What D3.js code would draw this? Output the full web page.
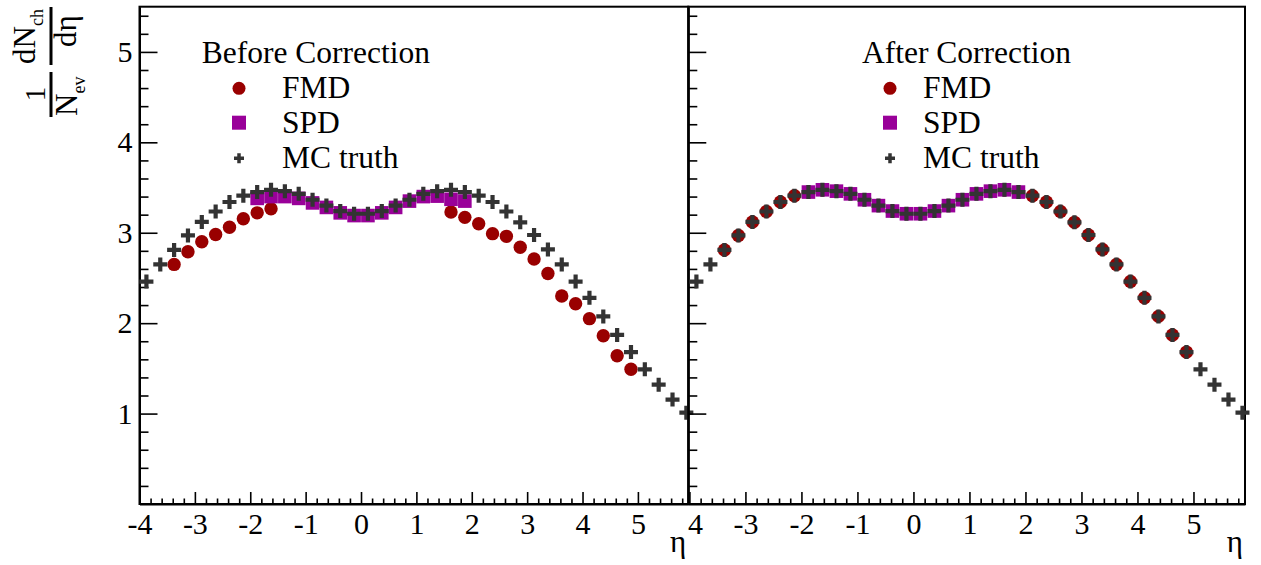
<!DOCTYPE html>
<html><head><meta charset="utf-8">
<script src="https://cdn.jsdelivr.net/npm/d3@7"></script>
<style>body{margin:0;background:#fff}svg{display:block}</style>
</head><body>
<svg id="c" width="1261" height="565"></svg>
<script>
// ---------- data ----------
const etaMC = [-3.875,-3.625,-3.375,-3.125,-2.875,-2.625,-2.375,-2.125,-1.875,-1.625,-1.375,-1.125,-0.875,-0.625,-0.375,-0.125,
  0.125,0.375,0.625,0.875,1.125,1.375,1.625,1.875,2.125,2.375,2.625,2.875,3.125,3.375,3.625,3.875,4.125,4.375,4.625,4.875,5.125,5.375,5.625,5.875];
const mcTruth = [2.46,2.65,2.81,2.97,3.12,3.235,3.34,3.41,3.45,3.475,3.46,3.43,3.365,3.30,3.24,3.21,
  3.21,3.24,3.30,3.365,3.43,3.46,3.475,3.45,3.41,3.34,3.235,3.115,2.975,2.815,2.65,2.46,2.28,2.075,1.87,1.68,1.49,1.32,1.155,1.01];
const etaFMD = [-3.375,-3.125,-2.875,-2.625,-2.375,-2.125,-1.875,-1.625,
  1.625,1.875,2.125,2.375,2.625,2.875,3.125,3.375,3.625,3.875,4.125,4.375,4.625,4.875];
const fmdBefore = [2.65,2.79,2.90,2.98,3.06,3.155,3.22,3.265,
  3.23,3.17,3.10,2.99,2.96,2.84,2.71,2.55,2.30,2.215,2.05,1.86,1.64,1.49];
const fmdAfter = [2.81,2.97,3.12,3.235,3.34,3.41,3.45,3.475,
  3.475,3.45,3.41,3.34,3.235,3.115,2.975,2.815,2.65,2.46,2.28,2.075,1.87,1.68];
const etaSPD = [-1.875,-1.625,-1.375,-1.125,-0.875,-0.625,-0.375,-0.125,0.125,0.375,0.625,0.875,1.125,1.375,1.625,1.875];
const spdBefore = [3.38,3.40,3.40,3.38,3.33,3.28,3.22,3.19,3.19,3.22,3.28,3.35,3.40,3.405,3.37,3.35];
const spdAfter = [3.45,3.475,3.46,3.43,3.365,3.30,3.24,3.21,3.21,3.24,3.30,3.365,3.43,3.46,3.475,3.45];
const xTickValues = [-4,-3,-2,-1,0,1,2,3,4,5];
const yTickValues = [1,2,3,4,5];
const legendTitles = ["Before Correction","After Correction"];
const legendLabels = ["FMD","SPD","MC truth"];

// ---------- styles ----------
const FONT = "'Liberation Serif','Times New Roman',serif";
const C_FMD = "#990000", C_SPD = "#990099", C_MC = "#333333";

const svg = d3.select("#c");
svg.append("rect").attr("width",1261).attr("height",565).attr("fill","#fff");

const yTop = 6.7, yBot = 504;
const y = d3.scaleLinear().domain([0,5.5]).range([yBot,yTop]);

const panels = [
  {x0:139.5, x1:688.3, dom:[-4,5.91], fmd:fmdBefore, spd:spdBefore, title:legendTitles[0],
   leg:{tx:201.7, mx:239, lx:282}, yLabels:true},
  {x0:688.3, x1:1245, dom:[-4.02,5.92], fmd:fmdAfter, spd:spdAfter, title:legendTitles[1],
   leg:{tx:862, mx:890, lx:923}, yLabels:false}
];

const minorX = d3.range(-40,60,2).map(v=>v/10).filter(v=>Math.abs(v-Math.round(v))>1e-6);
const minorY = d3.range(0,56,2).map(v=>v/10).filter(v=>Math.abs(v-Math.round(v))>1e-6);

panels.forEach((p,i)=>{
  const x = d3.scaleLinear().domain(p.dom).range([p.x0,p.x1]);
  const g = svg.append("g");

  // frame
  g.append("rect").attr("x",p.x0).attr("y",yTop).attr("width",p.x1-p.x0).attr("height",yBot-yTop)
    .attr("fill","none").attr("stroke","#000").attr("stroke-width",2);

  // x axis major (in the right pad the "-4" label is cut by the pad edge: only "4" shows)
  const fmt = i===1 ? (d=> d===-4 ? "4" : String(d)) : (d=>String(d));
  const xa = g.append("g").attr("transform",`translate(0,${yBot})`)
    .call(d3.axisBottom(x).tickValues(xTickValues.filter(v=>v>=p.dom[0]&&v<=p.dom[1]))
      .tickSizeInner(-12).tickSizeOuter(0).tickPadding(8.6).tickFormat(fmt));
  xa.select(".domain").attr("stroke-width",2);
  xa.selectAll(".tick line").attr("stroke-width",1.6);
  xa.selectAll("text").attr("font-family",FONT).attr("font-size",30).attr("fill","#000");
  if(i===1) xa.selectAll(".tick").filter(d=>d===-4).select("text").attr("text-anchor","start").attr("x",-2);
  // x minor
  const xm = g.append("g").attr("transform",`translate(0,${yBot})`)
    .call(d3.axisBottom(x).tickValues(minorX.filter(v=>v>p.dom[0]&&v<p.dom[1]))
      .tickSizeInner(-5.5).tickSizeOuter(0).tickFormat(""));
  xm.select(".domain").remove();
  xm.selectAll(".tick line").attr("stroke-width",1.6);

  // y axis major
  const ya = g.append("g").attr("transform",`translate(${p.x0},0)`)
    .call(d3.axisLeft(y).tickValues(yTickValues).tickSizeInner(-18).tickSizeOuter(0).tickPadding(7)
      .tickFormat(p.yLabels ? (d=>String(d)) : ""));
  ya.select(".domain").attr("stroke-width",2);
  ya.selectAll(".tick line").attr("stroke-width",1.6);
  ya.selectAll("text").attr("font-family",FONT).attr("font-size",30).attr("fill","#000");
  const ym = g.append("g").attr("transform",`translate(${p.x0},0)`)
    .call(d3.axisLeft(y).tickValues(minorY).tickSizeInner(-9).tickSizeOuter(0).tickFormat(""));
  ym.select(".domain").remove();
  ym.selectAll(".tick line").attr("stroke-width",1.6);

  // x axis title
  g.append("text").attr("x",p.x1-2).attr("y",552).attr("text-anchor","end")
    .attr("font-family",FONT).attr("font-size",31).text("η");

  // data: FMD
  g.append("g").selectAll("circle").data(etaFMD.map((e,k)=>[e,p.fmd[k]])).join("circle")
    .attr("cx",d=>x(d[0])).attr("cy",d=>y(d[1])).attr("r",6.7).attr("fill",C_FMD);
  // SPD
  g.append("g").selectAll("rect").data(etaSPD.map((e,k)=>[e,p.spd[k]])).join("rect")
    .attr("x",d=>x(d[0])-6.8).attr("y",d=>y(d[1])-6.8).attr("width",13.6).attr("height",13.6).attr("fill",C_SPD);
  // MC truth
  g.append("g").selectAll("path").data(etaMC.map((e,k)=>[e,mcTruth[k]])).join("path")
    .attr("transform",d=>`translate(${x(d[0])},${y(d[1])})`)
    .attr("d","M-7,0H7M0,-7V7").attr("stroke",C_MC).attr("stroke-width",4.2).attr("fill","none");

  // legend
  const lg = g.append("g").attr("font-family",FONT).attr("font-size",31.5).attr("fill","#000");
  lg.append("text").attr("x",p.leg.tx).attr("y",63).text(p.title);
  const rows = [98,133,168];
  lg.append("circle").attr("cx",p.leg.mx).attr("cy",88.3).attr("r",6.5).attr("fill",C_FMD);
  lg.append("rect").attr("x",p.leg.mx-7).attr("y",122.7-7).attr("width",14).attr("height",14).attr("fill",C_SPD);
  lg.append("path").attr("transform",`translate(${p.leg.mx},158.3)`).attr("d","M-5,0H5M0,-5V5")
    .attr("stroke",C_MC).attr("stroke-width",3.5);
  legendLabels.forEach((t,k)=>lg.append("text").attr("x",p.leg.lx).attr("y",rows[k]).text(t));
});

// y axis title: (1/N_ev) dN_ch/dη, rotated
const yt = svg.append("g").attr("transform","rotate(-90)").attr("font-family",FONT).attr("fill","#000");
yt.append("line").attr("x1",-117).attr("x2",-72).attr("y1",51).attr("y2",51).attr("stroke","#000").attr("stroke-width",3);
yt.append("line").attr("x1",-65).attr("x2",-7).attr("y1",51).attr("y2",51).attr("stroke","#000").attr("stroke-width",3);
yt.append("text").attr("x",-94).attr("y",45).attr("text-anchor","middle").attr("font-size",29).text("1");
const den = yt.append("text").attr("x",-116).attr("y",77).attr("font-size",31);
den.append("tspan").text("N");
den.append("tspan").attr("font-size",18).attr("dy",8).text("ev");
const num = yt.append("text").attr("x",-64).attr("y",35).attr("font-size",31);
num.append("tspan").text("dN");
num.append("tspan").attr("font-size",18).attr("dy",8).text("ch");
yt.append("text").attr("x",-47).attr("y",76).attr("font-size",31).text("dη");
</script>
</body></html>
